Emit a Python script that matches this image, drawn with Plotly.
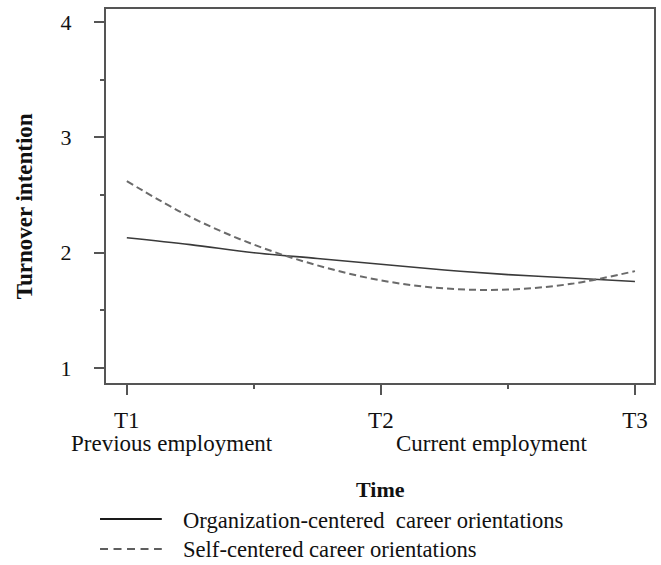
import plotly.graph_objects as go

# Time points (1 = T1, 2 = T2, 3 = T3) and estimated turnover intention
time_points = [1.0, 1.25, 1.5, 1.75, 2.0, 2.25, 2.5, 2.75, 3.0]
org_centered = [2.13, 2.07, 2.00, 1.95, 1.90, 1.85, 1.81, 1.78, 1.75]
self_centered = [2.62, 2.31, 2.07, 1.89, 1.76, 1.69, 1.68, 1.73, 1.84]

x_tick_vals = [1, 2, 3]
x_tick_text = ["T1", "T2", "T3"]
y_tick_vals = [1, 2, 3, 4]
series_names = ["Organization-centered  career orientations",
                "Self-centered career orientations"]

FONT = "Liberation Serif, Times New Roman, serif"
AXIS_COLOR = "#555555"

W, H = 661, 565
L, R, T, B = 106, 5, 9, 182
PW, PH = W - L - R, H - T - B

def px_x(p):
    # page pixel -> paper x
    return (p - L) / PW

def px_y(p):
    # page pixel -> paper y
    return (H - B - p) / PH

fig = go.Figure()
fig.add_trace(go.Scatter(
    x=time_points, y=org_centered, mode="lines", line_shape="spline",
    line=dict(color="#3a3a3a", width=1.6), name=series_names[0],
))
fig.add_trace(go.Scatter(
    x=time_points, y=self_centered, mode="lines", line_shape="spline",
    line=dict(color="#6a6a6a", width=2, dash="7px,4px"), name=series_names[1],
))

fig.update_layout(
    width=W, height=H,
    margin=dict(l=L, r=R, t=T, b=B),
    paper_bgcolor="white", plot_bgcolor="white",
    showlegend=False,
    font=dict(family=FONT, color="#111111", size=23),
)

fig.update_xaxes(
    range=[0.918, 3.075], tickvals=x_tick_vals, ticktext=x_tick_text,
    showgrid=False, zeroline=False,
    showline=True, mirror=True, linecolor=AXIS_COLOR, linewidth=2,
    ticks="outside", ticklen=10, tickwidth=1.5, tickcolor=AXIS_COLOR,
    ticklabelstandoff=5,
    minor=dict(dtick=0.5, tick0=1, ticks="outside", ticklen=4,
               tickwidth=1.5, tickcolor=AXIS_COLOR),
    tickfont=dict(size=23),
)
fig.update_yaxes(
    range=[0.87, 4.113], tickvals=y_tick_vals,
    showgrid=False, zeroline=False,
    showline=True, mirror=True, linecolor=AXIS_COLOR, linewidth=2,
    ticks="outside", ticklen=10, tickwidth=1.5, tickcolor=AXIS_COLOR,
    ticklabelstandoff=18,
    minor=dict(dtick=0.5, tick0=1, ticks="outside", ticklen=4,
               tickwidth=1.5, tickcolor=AXIS_COLOR),
    tickfont=dict(size=22),
)

annotations = [
    dict(x=px_x(172), y=px_y(443), text="Previous employment", font=dict(size=23)),
    dict(x=px_x(493), y=px_y(443), text="Current employment", font=dict(size=23)),
    dict(x=px_x(381), y=px_y(489), text="<b>Time</b>", font=dict(size=22)),
    dict(x=px_x(24), y=px_y(206), text="<b>Turnover intention</b>", textangle=-90,
         font=dict(size=23)),
    dict(x=px_x(181), y=px_y(520), text=series_names[0], xanchor="left", font=dict(size=22.6)),
    dict(x=px_x(181), y=px_y(549), text=series_names[1], xanchor="left", font=dict(size=22.6)),
]
for a in annotations:
    a.setdefault("xanchor", "center")
    fig.add_annotation(xref="paper", yref="paper", showarrow=False, yanchor="middle", **a)

# Legend line samples
fig.add_shape(type="line", xref="paper", yref="paper",
              x0=px_x(100), x1=px_x(162), y0=px_y(519), y1=px_y(519),
              line=dict(color="#1a1a1a", width=2))
fig.add_shape(type="line", xref="paper", yref="paper",
              x0=px_x(100), x1=px_x(162), y0=px_y(549), y1=px_y(549),
              line=dict(color="#2a2a2a", width=1.5, dash="8px,5.5px"))

fig.write_html("out.html", config={"displayModeBar": False})
